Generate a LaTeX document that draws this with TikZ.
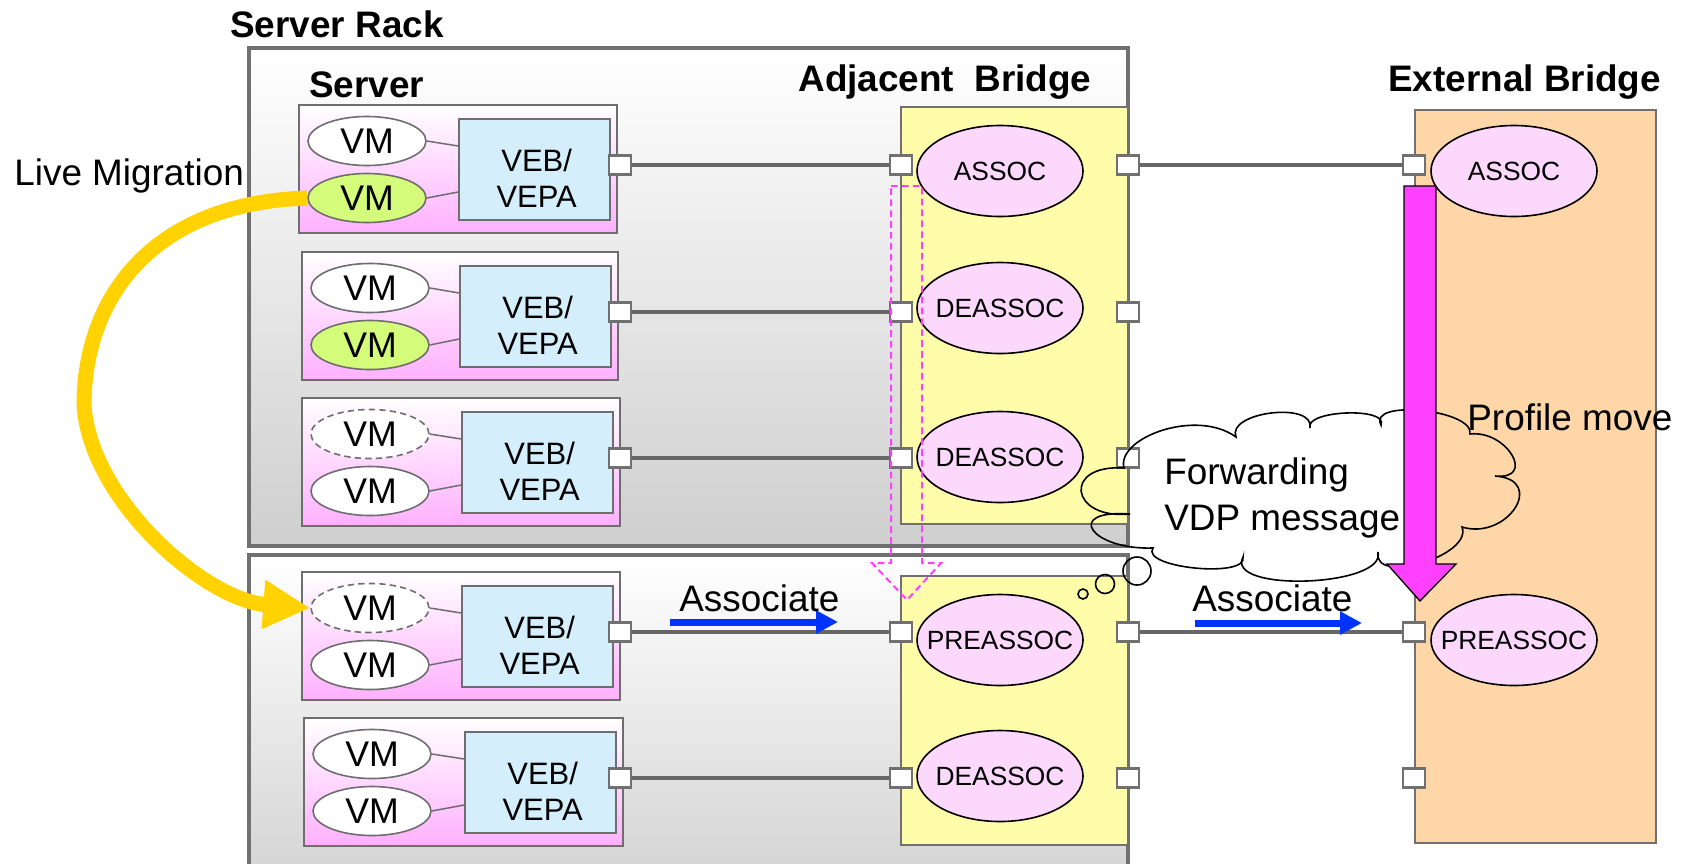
\documentclass[tikz,border=0pt]{standalone}
\usepackage{fontspec}
\setmainfont{Liberation Sans}
\usetikzlibrary{shapes.geometric,arrows.meta,calc}

% one drawing unit = one pixel of the 1686 x 863 canvas
\newdimen\pu \pu=0.02cm

\definecolor{rackgray}{HTML}{707070}
\definecolor{boxgray}{HTML}{6E6E6E}
\definecolor{srvpink}{HTML}{FFB0FF}
\definecolor{vmgreen}{HTML}{D5FB7A}
\definecolor{vebblue}{HTML}{D4EEFC}
\definecolor{linkgray}{HTML}{666666}
\definecolor{bridgeyellow}{HTML}{FFFCAA}
\definecolor{extpeach}{HTML}{FFD6A8}
\definecolor{statepink}{HTML}{FCD8FC}
\definecolor{profmag}{HTML}{FF40FF}
\definecolor{assocblue}{HTML}{0033FF}
\definecolor{migrgold}{HTML}{FFD200}

\newcommand\fTitle{\fontsize{21}{25}\selectfont\bfseries}
\newcommand\fBig{\fontsize{21}{25}\selectfont}
\newcommand\fVM{\fontsize{20.3}{24}\selectfont}
\newcommand\fVEB{\fontsize{17.6}{20.5}\selectfont}
\newcommand\fState{\fontsize{15}{18}\selectfont}
% label of fixed-size ellipse: zero width so the shape keeps its minimum size
\newcommand\slab[1]{\makebox[0pt]{#1}}

\begin{document}
\begin{tikzpicture}[x=0.02cm,y=-0.02cm,
  rackbox/.style={draw=rackgray,line width=3.5\pu,top color=white,bottom color=gray!38},
  srvbox/.style={draw=boxgray,line width=2\pu,top color=white,bottom color=srvpink},
  bridgebox/.style={draw=rackgray,line width=2.2\pu,fill=bridgeyellow},
  extbox/.style={draw=rackgray,line width=2.2\pu,fill=extpeach},
  vm/.style={ellipse,draw=boxgray,line width=1.6\pu,fill=white,minimum width=118\pu,
    minimum height=49\pu,inner sep=0pt,font=\fVM},
  vmsel/.style={vm,fill=vmgreen},
  vmgone/.style={vm,dash pattern=on 3.6pt off 2.4pt},
  vebbox/.style={draw=boxgray,line width=1.8\pu,fill=vebblue,minimum width=151\pu,
    minimum height=101\pu,inner sep=0pt},
  vebtext/.style={anchor=base,inner sep=0pt,font=\fVEB},
  vline/.style={draw=boxgray,line width=1.5\pu},
  port/.style={draw=rackgray,line width=2.2\pu,fill=white,minimum width=22\pu,
    minimum height=19\pu,inner sep=0pt},
  link/.style={draw=linkgray,line width=3.2\pu},
  state/.style={ellipse,draw=black,line width=1.6\pu,fill=statepink,minimum width=166\pu,
    minimum height=91\pu,inner sep=0pt,font=\fState},
  cloudline/.style={draw=black,line width=1.6\pu},
  bubble/.style={circle,draw=black,line width=1.6\pu,inner sep=0pt},
  ghostarrow/.style={draw=profmag,line width=2\pu,dash pattern=on 3.8pt off 2.4pt},
  profarrow/.style={draw=black,line width=1.3\pu,fill=profmag},
  assoc/.style={draw=assocblue,line width=7\pu,-{Triangle[length=12.5pt,width=12.5pt]}},
  migrate/.style={draw=migrgold,line width=15\pu,-{Triangle[length=26.7pt,width=26.2pt]}},
  titletext/.style={anchor=base west,inner sep=0pt,font=\fTitle},
  bigtext/.style={anchor=base west,inner sep=0pt,font=\fBig}]

\useasboundingbox (0,0) rectangle (1686,863);
\clip (0,0) rectangle (1686,863);

% server racks
\draw[rackbox] (249,48) rectangle (1128,546);
\draw[rackbox,bottom color=gray!34] (249,555) rectangle (1128,880);

% bridges
\draw[bridgebox] (901,107) rectangle (1128,524);
\draw[bridgebox] (901,576) rectangle (1128,845);
\draw[extbox] (1415,110) rectangle (1656,843);

% servers: VMs, VEB/VEPA and uplink port
\foreach \rw/\lx/\ty/\rx/\ka/\kb in {1/299/105/617/vm/vmsel, 2/302/252/618/vm/vmsel,
    3/302/398/620/vmgone/vm, 4/302/572/620/vmgone/vm, 5/304/718/623/vm/vm}{
  \draw[srvbox] (\lx,\ty) rectangle (\rx,\ty+128);
  \node[vebbox,anchor=north east] (sv\rw) at (\rx-6,\ty+13) {};
  \node[vebtext] (svt\rw) at ($(sv\rw.north)+(2,53)$) {VEB/};
  \node[vebtext] (svu\rw) at ($(sv\rw.north)+(2,89)$) {VEPA};
  \node[\ka] (sa\rw) at (\lx+68,\ty+36) {VM};
  \node[\kb] (sb\rw) at (\lx+68,\ty+93) {VM};
  \draw[vline] (sa\rw.east) -- ($(sv\rw.north west)+(0,28)$);
  \draw[vline] (sb\rw.east) -- ($(sv\rw.north west)+(0,74)$);
  \node[port] (sp\rw) at (620,\ty+60) {};
}

% adjacent bridge ports, VDP states and links to the servers
\foreach \rw/\py/\ey/\lab in {1/165/171/ASSOC, 2/312/308/DEASSOC, 3/458/457/DEASSOC,
    4/632/640/PREASSOC, 5/778/776/DEASSOC}{
  \node[port] (al\rw) at (901,\py) {};
  \node[port] (ar\rw) at (1128,\py) {};
  \node[state] (ae\rw) at (1000,\ey) {\slab{\lab}};
  \draw[link] (sp\rw) -- (al\rw);
}

% external bridge ports and links
\node[port] (xp1) at (1414,165) {};
\node[port] (xp4) at (1414,632) {};
\node[port] (xp5) at (1414,778) {};
\draw[link] (ar1) -- (xp1);
\draw[link] (ar4) -- (xp4);

% profile moving inside the adjacent bridge
\coordinate (mvA) at (906.5,186);
\coordinate (mvB) at (907,600);
\draw[ghostarrow] (mvA) ++(-15.5,0) -- ++(31,0) -- ++(0,377) -- ++(19,0) -- (mvB)
  -- ++(-35,-37) -- ++(19,0) -- cycle;

% thought cloud
\draw[cloudline] (1130,514)
  .. controls (1070,520) and (1062,464) .. (1124,468)
  .. controls (1116,438) and (1196,408) .. (1236,437)
  .. controls (1226,412) and (1315,401) .. (1310,428)
  .. controls (1303.6,410.3) and (1388.8,406.7) .. (1381,425)
  .. controls (1367.4,398.8) and (1474.2,409.6) .. (1470,434)
  .. controls (1506.8,429.8) and (1536.8,480.2) .. (1495,476)
  .. controls (1547,479.6) and (1507.4,540.8) .. (1462,527)
  .. controls (1473.1,555.8) and (1372.3,585.8) .. (1378,552)
  .. controls (1386.8,586.8) and (1224.8,592.8) .. (1243,557)
  .. controls (1248,578.6) and (1140,567.8) .. (1153,548)
  .. controls (1090.6,550.1) and (1063,509.3) .. (1130,514);
\node[bubble,minimum size=28\pu] (bub1) at (1137,571) {};
\node[bubble,minimum size=19\pu] (bub2) at (1105,584) {};
\node[bubble,minimum size=10\pu] (bub3) at (1083,594) {};
\node[bigtext] (fwd1) at (1164,484) {Forwarding};
\node[bigtext] (fwd2) at (1164,530) {VDP message};

% profile move in the external bridge
\coordinate (pmA) at (1420,186);
\coordinate (pmB) at (1420,601);
\draw[profarrow] (pmA) ++(-16,0) -- ++(32,0) -- ++(0,378) -- ++(20,0) -- (pmB)
  -- ++(-33,-37) -- ++(17,0) -- cycle;

\node[state] (xe1) at (1514,171) {\slab{ASSOC}};
\node[state] (xe4) at (1514,640) {\slab{PREASSOC}};
\node[bigtext] (prof) at (1467,430) {Profile move};

% associate requests
\coordinate (asA) at (670,622);
\coordinate (asB) at (838,622);
\coordinate (asC) at (1195,623);
\coordinate (asD) at (1362,623);
\draw[assoc] (asA) -- (asB);
\draw[assoc] (asC) -- (asD);
\node[bigtext] (asT1) at (679,611) {Associate};
\node[bigtext] (asT2) at (1192,611) {Associate};

% live migration
\draw[migrate] (sb1.west) .. controls (150,203) and (84,300) .. (84,405)
  .. controls (90,500) and (205,600) .. (sa4.west);
\node[bigtext] (live) at (14,185) {Live Migration};

% titles
\node[titletext] (tRack) at (230,37) {Server Rack};
\node[titletext] (tSrv) at (309,97) {Server};
\node[titletext] (tAdj) at (798,91) {Adjacent\ \ Bridge};
\node[titletext] (tExt) at (1388,91) {External Bridge};
\end{tikzpicture}
\end{document}
